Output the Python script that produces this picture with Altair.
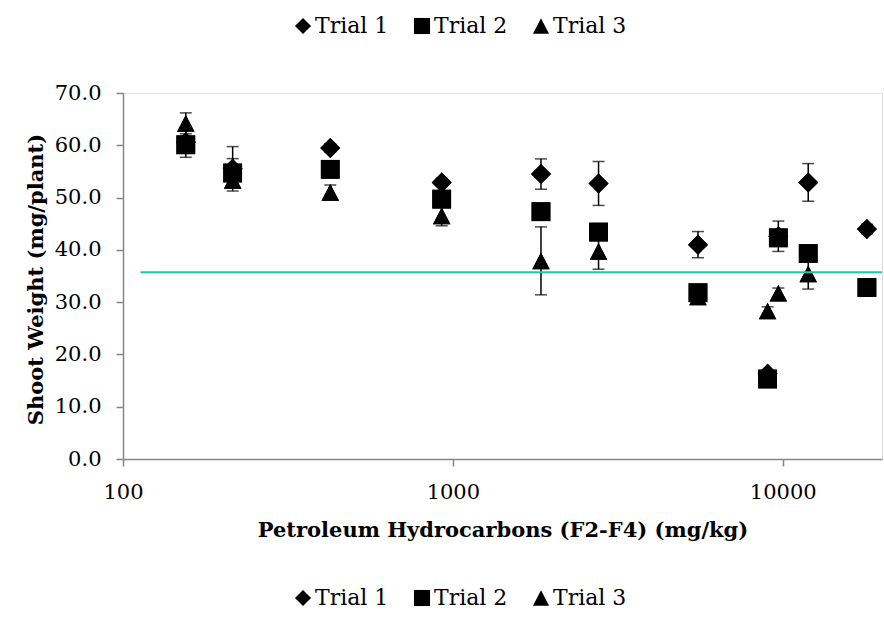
import altair as alt
import pandas as pd

# Hydrocarbon concentration of each soil treatment (mg/kg)
conc = [155, 215, 425, 925, 1850, 2765, 5535, 9000, 9700, 11950, 18000]

# Mean shoot weight (mg/plant) and error for each trial
trial1 = [60.6, 55.5, 59.5, 52.9, 54.5, 52.7, 41.0, 16.3, 42.6, 52.9, 44.0]
trial1_err = [2.9, 4.25, 0.8, 0.8, 2.9, 4.2, 2.5, 0.5, 2.9, 3.6, 0.9]
trial2 = [60.1, 54.7, 55.4, 49.7, 47.3, 43.4, 31.8, 15.3, 42.3, 39.3, 32.8]
trial2_err = [1.0, 2.75, 0.8, 1.0, 1.0, 1.0, 1.0, 0.5, 1.0, 1.0, 1.0]
trial3 = [64.2, 53.3, 51.0, 46.5, 37.9, 39.7, 31.0, 28.3, 31.7, 35.4, 32.8]
trial3_err = [2.0, 0.8, 1.4, 1.9, 6.5, 3.4, 0.8, 0.8, 1.0, 2.9, 0.8]

trial_names = ["Trial 1", "Trial 2", "Trial 3"]

# Reference threshold line
threshold_x = [113, 20000]
threshold_y = 35.7

FONT = "DejaVu Serif"
AXIS_GREY = "#868686"
TRIANGLE = "M0,-0.95L1,0.95L-1,0.95Z"

rows = []
for name, vals, errs in zip(trial_names, [trial1, trial2, trial3],
                            [trial1_err, trial2_err, trial3_err]):
    for c, v, e in zip(conc, vals, errs):
        rows.append({"conc": c, "weight": v, "lo": v - e, "hi": v + e, "trial": name})
df = pd.DataFrame(rows)

line_df = pd.DataFrame({"x": threshold_x, "y": [threshold_y] * len(threshold_x)})

x_enc = alt.X(
    "conc:Q",
    scale=alt.Scale(type="log", domain=[100, 20000], nice=False),
    axis=alt.Axis(
        values=[100, 1000, 10000], format="d", grid=False,
        title="Petroleum Hydrocarbons (F2-F4) (mg/kg)",
        titleFont=FONT, titleFontSize=21, titleFontWeight="bold", titleColor="black",
        titleY=60,
        labelFont=FONT, labelFontSize=21, labelColor="black", labelPadding=15,
        labelFlush=False, labelOverlap=False,
        domainColor=AXIS_GREY, domainWidth=1.5, tickColor=AXIS_GREY, tickWidth=1.5, tickSize=7,
    ),
)
y_scale = alt.Scale(domain=[0, 70], nice=False, zero=True)
y_enc = alt.Y(
    "weight:Q",
    scale=y_scale,
    axis=alt.Axis(
        values=list(range(0, 71, 10)), format=".1f", grid=False,
        title="Shoot Weight (mg/plant)",
        titleFont=FONT, titleFontSize=21, titleFontWeight="bold", titleColor="black",
        titleX=-77, titleY=186,
        labelFont=FONT, labelFontSize=21, labelColor="black", labelPadding=15,
        domainColor=AXIS_GREY, domainWidth=1.5, tickColor=AXIS_GREY, tickWidth=1.5, tickSize=7,
    ),
)


def shape_enc(legend_y):
    return alt.Shape(
        "trial:N",
        scale=alt.Scale(domain=trial_names, range=["diamond", "square", TRIANGLE]),
        legend=alt.Legend(
            title=None, orient="none", legendX=169, legendY=legend_y,
            direction="horizontal", padding=0, columnPadding=22,
            symbolSize=260, symbolFillColor="black", symbolStrokeWidth=0,
            labelFont=FONT, labelFontSize=22, labelColor="black", labelOffset=1,
        ),
    )


size_enc = alt.Size(
    "trial:N",
    scale=alt.Scale(domain=trial_names, range=[400, 306, 441]),
    legend=None,
)

base = alt.Chart(df)

err_rule = base.mark_rule(color="black", strokeWidth=1.5).encode(
    x=x_enc, y=alt.Y("lo:Q", scale=y_scale), y2="hi:Q"
)
cap_lo = base.mark_tick(color="black", orient="horizontal", size=12, thickness=1.5).encode(
    x=x_enc, y=alt.Y("lo:Q", scale=y_scale)
)
cap_hi = base.mark_tick(color="black", orient="horizontal", size=12, thickness=1.5).encode(
    x=x_enc, y=alt.Y("hi:Q", scale=y_scale)
)

points_top = base.mark_point(filled=True, color="black", opacity=1, strokeWidth=0).encode(
    x=x_enc, y=y_enc, shape=shape_enc(-78), size=size_enc,
    order=alt.Order("trial:N"),
)
points_bottom = base.mark_point(filled=True, color="black", opacity=1, strokeWidth=0).encode(
    x=x_enc, y=y_enc, shape=shape_enc(494), size=size_enc,
    order=alt.Order("trial:N"),
)

threshold = alt.Chart(line_df).mark_line(color="#14cf9f", strokeWidth=2).encode(
    x=alt.X("x:Q", scale=alt.Scale(type="log", domain=[100, 20000], nice=False)),
    y=alt.Y("y:Q", scale=y_scale),
)

chart = (
    alt.layer(err_rule, cap_lo, cap_hi, points_top, points_bottom, threshold)
    .resolve_scale(shape="independent")
    .properties(
        width=759, height=366,
        autosize=alt.AutoSizeParams(type="none"),
        padding={"left": 123, "top": 93, "right": 2, "bottom": 161},
        background="white",
    )
    .configure_view(stroke=None)
    .configure(font=FONT)
)

chart.save("out.html", embed_options={"renderer": "svg", "actions": False})
